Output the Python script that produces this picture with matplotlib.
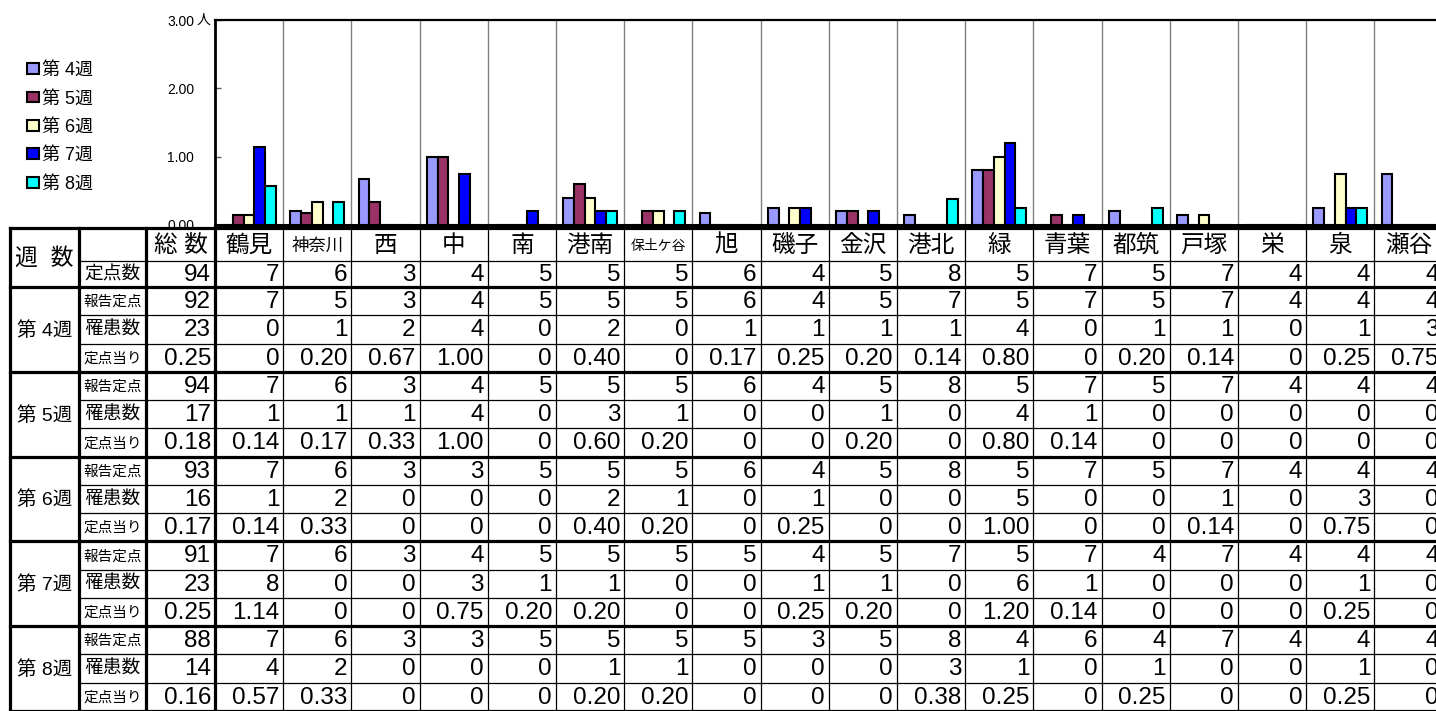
import matplotlib
matplotlib.use('Agg')
import matplotlib.pyplot as plt
from matplotlib.font_manager import FontProperties

# ---------------- data ----------------
districts = ['鶴見', '神奈川', '西', '中', '南', '港南', '保土ケ谷', '旭', '磯子',
             '金沢', '港北', '緑', '青葉', '都筑', '戸塚', '栄', '泉', '瀬谷']
total_label = '総 数'
weeks = ['第 4週', '第 5週', '第 6週', '第 7週', '第 8週']
row_labels = ['報告定点', '罹患数', '定点当り']
colors = ['#9999FF', '#993366', '#FFFFCC', '#0000FF', '#00FFFF']
yticks = [0, 1, 2, 3]
ytick_labels = ['0.00', '1.00', '2.00', '3.00']
y_unit = '人'

# first element of each list = 総数 column
teiten = [94, 7, 6, 3, 4, 5, 5, 5, 6, 4, 5, 8, 5, 7, 5, 7, 4, 4, 4]

week4_reports = [92, 7, 5, 3, 4, 5, 5, 5, 6, 4, 5, 7, 5, 7, 5, 7, 4, 4, 4]
week4_cases = [23, 0, 1, 2, 4, 0, 2, 0, 1, 1, 1, 1, 4, 0, 1, 1, 0, 1, 3]
week4_rate = [0.25, 0, 0.20, 0.67, 1.00, 0, 0.40, 0, 0.17, 0.25, 0.20, 0.14, 0.80, 0, 0.20, 0.14, 0, 0.25, 0.75]

week5_reports = [94, 7, 6, 3, 4, 5, 5, 5, 6, 4, 5, 8, 5, 7, 5, 7, 4, 4, 4]
week5_cases = [17, 1, 1, 1, 4, 0, 3, 1, 0, 0, 1, 0, 4, 1, 0, 0, 0, 0, 0]
week5_rate = [0.18, 0.14, 0.17, 0.33, 1.00, 0, 0.60, 0.20, 0, 0, 0.20, 0, 0.80, 0.14, 0, 0, 0, 0, 0]

week6_reports = [93, 7, 6, 3, 3, 5, 5, 5, 6, 4, 5, 8, 5, 7, 5, 7, 4, 4, 4]
week6_cases = [16, 1, 2, 0, 0, 0, 2, 1, 0, 1, 0, 0, 5, 0, 0, 1, 0, 3, 0]
week6_rate = [0.17, 0.14, 0.33, 0, 0, 0, 0.40, 0.20, 0, 0.25, 0, 0, 1.00, 0, 0, 0.14, 0, 0.75, 0]

week7_reports = [91, 7, 6, 3, 4, 5, 5, 5, 5, 4, 5, 7, 5, 7, 4, 7, 4, 4, 4]
week7_cases = [23, 8, 0, 0, 3, 1, 1, 0, 0, 1, 1, 0, 6, 1, 0, 0, 0, 1, 0]
week7_rate = [0.25, 1.14, 0, 0, 0.75, 0.20, 0.20, 0, 0, 0.25, 0.20, 0, 1.20, 0.14, 0, 0, 0, 0.25, 0]

week8_reports = [88, 7, 6, 3, 3, 5, 5, 5, 5, 3, 5, 8, 4, 6, 4, 7, 4, 4, 4]
week8_cases = [14, 4, 2, 0, 0, 0, 1, 1, 0, 0, 0, 3, 1, 0, 1, 0, 0, 1, 0]
week8_rate = [0.16, 0.57, 0.33, 0, 0, 0, 0.20, 0.20, 0, 0, 0, 0.38, 0.25, 0, 0.25, 0, 0, 0.25, 0]

week_data = [
    (week4_reports, week4_cases, week4_rate),
    (week5_reports, week5_cases, week5_rate),
    (week6_reports, week6_cases, week6_rate),
    (week7_reports, week7_cases, week7_rate),
    (week8_reports, week8_cases, week8_rate),
]

# ---------------- layout ----------------
W, H = 1436, 711
FAM = ['Liberation Sans', 'Noto Sans CJK JP']
plt.rcParams['font.family'] = FAM

fig = plt.figure(figsize=(W / 100, H / 100), dpi=100)

col_w = 68.2
plot_left, plot_top, plot_bottom = 215, 20, 225
n = len(districts)

ax = fig.add_axes([plot_left / W, 1 - plot_bottom / H, n * col_w / W, (plot_bottom - plot_top) / H])
ax.set_xlim(0, n)
ax.set_ylim(0, 3)

bw = 0.158
for k, (wk, c) in enumerate(zip(weeks, colors)):
    rates = week_data[k][2][1:]
    xs = [i + 0.5 + (k - 2) * bw for i in range(n)]
    ax.bar(xs, rates, width=bw, color=c, edgecolor='black', linewidth=1.5, label=wk, zorder=3)

for i in range(1, n + 1):
    ax.axvline(i, color='#808080', linewidth=1.0, zorder=1)

ax.set_xticks([])
ax.set_yticks(yticks)
ax.set_yticklabels(ytick_labels, fontsize=10, family=FAM)
ax.tick_params(axis='y', direction='in', length=4, width=1, color='#606060', pad=15)
ax.annotate(y_unit, xy=(0, yticks[-1]), xytext=(-13.5, 0), textcoords='offset points',
            ha='left', va='center', fontsize=10, annotation_clip=False)
for s in ['left', 'top', 'bottom']:
    ax.spines[s].set_color('black')
ax.spines['left'].set_linewidth(2)
ax.spines['top'].set_linewidth(1.6)
ax.spines['bottom'].set_linewidth(2.2)
ax.spines['right'].set_visible(False)

handles, labels = ax.get_legend_handles_labels()
fig.legend(handles, labels, loc='upper left', bbox_to_anchor=(27 / W, 1 - 62 / H),
           frameon=False, prop=FontProperties(family=FAM, size=13),
           handlelength=0.65, handleheight=0.55, handletextpad=0.2,
           labelspacing=0.63, borderpad=0, borderaxespad=0)

# ---------------- table ----------------
tab = fig.add_axes([0, 0, 1, 1])
tab.set_xlim(0, W)
tab.set_ylim(H, 0)
tab.axis('off')

col_edges = [10, 79, 146, 215] + [215 + col_w * i for i in range(1, n + 1)]
top, split, hdr_bottom, row_h = 228, 261, 287, 28.25
right = col_edges[-1]
THICK, THIN = 2.3, 0.9
NUM_SIZE = 17.5

# header texts
tab.text((col_edges[0] + col_edges[1]) / 2, (top + hdr_bottom) / 2 + 1, '週  数',
         ha='center', va='center', fontsize=16.5)
tab.text((col_edges[1] + col_edges[2]) / 2, (split + hdr_bottom) / 2 + 1, '定点数',
         ha='center', va='center', fontsize=13.5)
hdr_sizes = {'神奈川': 12.5, '保土ケ谷': 10}
headers = [total_label] + districts
for j, name in enumerate(headers):
    x0, x1 = col_edges[2 + j], col_edges[3 + j]
    tab.text((x0 + x1) / 2, (top + split) / 2 + 1, name, ha='center', va='center',
             fontsize=hdr_sizes.get(name, 17))
    tab.text(x1 - 4, (split + hdr_bottom) / 2 + 1, str(teiten[j]), ha='right', va='center',
             fontsize=NUM_SIZE)


def fmt_rate(v):
    return '0' if v == 0 else f'{v:.2f}'


label_sizes = [10.5, 13.5, 10.5]
for b, wk in enumerate(weeks):
    b_top = hdr_bottom + 3 * b * row_h
    tab.text((col_edges[0] + col_edges[1]) / 2, b_top + 1.5 * row_h + 1, wk,
             ha='center', va='center', fontsize=14)
    for r in range(3):
        yc = b_top + (r + 0.5) * row_h + 1
        tab.text((col_edges[1] + col_edges[2]) / 2, yc, row_labels[r], ha='center', va='center',
                 fontsize=label_sizes[r])
        vals = week_data[b][r]
        for j, v in enumerate(vals):
            x1 = col_edges[3 + j]
            s = fmt_rate(v) if r == 2 else str(v)
            tab.text(x1 - 4, yc, s, ha='right', va='center', fontsize=NUM_SIZE)
    # thin inner row lines
    for r in (1, 2):
        y = b_top + r * row_h
        tab.plot([col_edges[1], right], [y, y], color='black', lw=THIN)
    # thick block separator
    y = b_top + 3 * row_h
    tab.plot([col_edges[0], right], [y, y], color='black', lw=THICK)

# grid lines
bottom_y = hdr_bottom + 15 * row_h
tab.plot([col_edges[0], right], [top, top], color='black', lw=THICK)
tab.plot([col_edges[1], right], [split, split], color='black', lw=THIN)
tab.plot([col_edges[0], right], [hdr_bottom, hdr_bottom], color='black', lw=THICK)
for i, x in enumerate(col_edges):
    lw = THICK if i <= 3 else THIN
    tab.plot([x, x], [top, bottom_y], color='black', lw=lw)

fig.savefig('out.png', dpi=100)
